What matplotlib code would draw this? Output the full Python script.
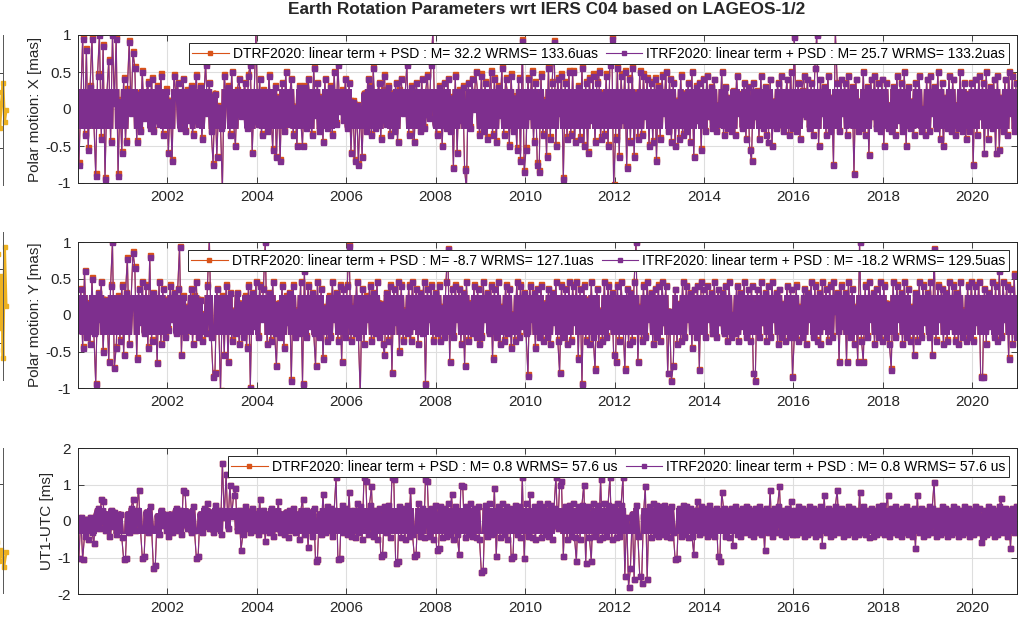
import numpy as np
import matplotlib
matplotlib.use('Agg')
import matplotlib.pyplot as plt
from matplotlib.lines import Line2D
from matplotlib.patches import Rectangle

plt.rcParams['font.family'] = ['Liberation Sans', 'DejaVu Sans']

# 24 samples per year, 2000 - 2020, values in 0.01 mas (polar motion) and 0.01 ms (UT1)
first_year = 2000
per_year = 24

x_itrf = [
	-75, 12, 95, -35, 80, -55, 30, 95, -18, -90, 45, 100, -40, 85, -95, 20, 65, -45, 100, 8, 95, -90, 10, -60,
	40, -45, 25, 90, -5, 75, 55, -45, 20, -30, 50, -12, 15, 35, -25, 40, -30, 5, 30, -20, 45, -35, 10, 25,
	-60, 10, -70, 45, 20, 35, -25, 10, 40, -30, 25, -15, 30, -35, 5, 45, -20, 30, -40, 15, 60, -5, 35, -30,
	-75, 20, -65, 3, -25, -110, 45, 15, 30, -35, 50, -20, -50, 25, 40, -10, 10, 35, -25, 45, 60, -60, 12, 105,
	-20, 40, -35, 25, 10, -30, 45, -5, -55, 30, -65, 15, -70, 35, -30, 50, -20, 15, 40, -35, 2, -50, 30, -15,
	-50, 30, -25, 40, 10, -35, 55, -8, 35, -30, 15, -45, 40, -25, 20, 30, -35, 50, -20, 60, -3, 25, -15, 40,
	-25, 35, -60, 10, -70, 5, -75, 0, -65, 20, -30, 40, 30, -35, 55, -25, 15, 35, -40, 25, 45, -20, 30, -35,
	20, -30, 35, -45, 25, 40, -5, 15, 60, -35, 30, -20, -45, 35, 8, -30, 40, -25, 20, 45, -12, 60, 105, -20,
	-35, 30, 5, -50, 35, -25, 40, -30, 15, -80, 45, -60, 25, -15, 30, -82, -110, 35, -25, 40, 0, 50, 20, -35,
	45, -30, 35, -40, 5, 50, -35, 40, -45, 30, -8, 55, -35, 40, 20, -50, 45, -30, 15, -55, 40, -70, 92, -85,
	-55, 40, -10, 50, -45, 35, -75, -85, 45, -35, 10, -65, 55, -40, 35, 90, -50, 40, -5, 45, -95, 35, -40, 50,
	-35, 50, -45, 15, 30, -40, 55, -50, 35, -60, 40, -15, 45, -45, 35, 50, -40, 20, -35, 45, -50, 60, 95, -105,
	-40, 55, -65, 45, -15, 50, -80, 40, -45, 55, -65, 20, -40, 50, -35, 45, -10, 40, -50, 35, -45, 40, -70, 30,
	-40, 45, -5, 50, -30, 40, -45, 35, -50, 10, -40, 45, -35, 20, -30, 35, -45, 50, -65, 30, -15, 35, -55, 40,
	-30, 45, -10, 30, -25, 40, -30, 5, -20, 50, -35, 30, -25, 15, -30, 25, -35, 45, -5, 20, -25, 35, -40, 30,
	-55, -70, 35, -10, 25, -40, 45, -25, 30, -35, -45, 40, -50, 10, -25, 35, -20, 45, -30, 5, 40, -35, 50, -25,
	97, -30, 35, -40, 25, 45, -10, 40, -25, 35, -35, 55, 100, -50, 40, -5, 30, -35, 45, -30, 15, -75, 105, 35,
	-30, 40, -5, 35, -35, 45, -20, 30, -88, 40, -30, 10, -25, 50, -35, 30, -62, 40, -10, 45, -25, 35, -30, 40,
	-50, 35, -25, 5, -30, 30, -35, 45, -15, 35, -30, 50, -50, 30, -25, 10, -35, 35, -20, 45, -30, 0, -35, 40,
	-30, 45, -5, 30, -25, 50, -40, 35, -50, 15, -25, 45, -30, 40, -35, 5, -25, 50, -30, 35, -40, 20, -30, 35,
	-75, 40, -35, 45, -10, 35, -60, 50, -40, 30, -25, 40, -60, 45, -55, 15, -30, 40, -35, 50, -5, 45, -30, 35,
]

y_itrf = [
	-20, 35, -45, 60, -30, 15, -40, 50, -25, -95, 30, -5, 45, -50, 20, 10, -65, 40, 100, -73, -45, 25, -35, 40,
	-55, 30, 77, -40, 20, 85, 65, -60, 35, -10, 45, -25, 40, -45, 80, -35, 30, 5, -66, 45, -40, 35, -30, 20,
	-20, 40, -5, 30, -25, 35, 93, -55, 25, -30, 10, -20, 35, -40, 25, 45, -30, 20, -35, 0, -25, 40, 105, -30,
	-85, -80, 35, -10, -105, 25, -55, 40, -65, 30, -35, 5, -25, 30, -40, 15, -30, 25, -45, 40, -100, 30, -15, 45,
	-30, 40, -5, 35, 100, -40, 30, -35, 45, -25, -70, 15, -30, 40, -45, 25, -10, 30, -90, 40, -30, 5, -25, 45,
	-95, 60, -30, 40, -15, 30, -25, -70, 45, -30, 35, -60, 10, -35, 25, -30, 45, -5, 30, -35, 40, -65, 35, -30,
	40, 95, -35, 10, -25, 45, -30, -110, 35, -40, 25, -5, 40, -35, 30, -25, 45, -30, 15, -40, -55, 30, -35, 40,
	-80, 35, -10, 45, -50, 40, -35, 5, -25, 40, -35, 45, -15, 35, -40, 30, -25, 45, -95, 35, -5, 40, -35, 30,
	-25, 40, -35, 10, -30, 45, 90, -65, 35, -30, 40, -5, 35, -40, 30, -70, 45, -35, 15, -25, 40, -30, 35, -40,
	-30, 45, -5, 30, -25, 40, -60, 35, -30, 45, -40, 10, -35, 40, -25, 35, -45, 0, -35, 45, -30, 40, -15, 30,
	-25, -83, 40, -5, 30, -45, 35, -30, 40, -35, 15, -30, 35, -40, 30, -10, 45, -35, -80, 40, -30, 35, -40, 45,
	-35, 40, -10, 45, -60, 35, -95, 40, -35, 20, -40, 45, -30, -75, 35, -40, 5, -35, 45, -30, 40, -15, 30, -55,
	-65, 40, -35, 45, -10, -75, 35, -40, 30, -35, 45, 100, -65, 10, -35, 40, -30, 45, -5, 30, -40, 35, -30, 40,
	-35, 45, -10, 40, -80, 5, -90, -70, 35, -40, 15, -35, 45, -30, 40, -5, 30, -45, 35, -30, 40, -75, 45, 35,
	-30, 40, -5, 30, -25, 45, -30, 35, -10, 30, -25, 40, -35, 45, -30, 0, -25, 40, -35, 30, -15, 45, -30, 35,
	-35, 40, -80, -90, 35, -30, 45, -10, 30, -35, 40, -30, 45, -5, 30, -40, 35, -30, 15, -35, 40, -30, 35, -85,
	-30, 40, -35, 10, -30, 35, -40, 30, -5, 45, -30, 40, -35, 30, -40, 45, -15, 35, -35, 40, -30, 45, 5, 30,
	-65, 40, -15, 30, -65, 45, -30, 35, -40, 10, -65, 100, -35, -65, 40, -30, 45, -5, 30, -40, 35, -30, 45, -35,
	40, -30, 15, -40, -75, 45, -30, 40, -5, 30, -40, 45, -30, 35, -35, 10, -55, 30, -35, 45, -30, 40, -10, 30,
	-30, 45, -55, 90, -35, 40, -5, 35, -40, 30, -35, 45, -15, 40, -35, 30, -40, 45, -30, 5, -35, 40, -30, 45,
	-35, 40, -10, 45, -85, -85, 35, -40, 30, -15, 45, -30, 40, -35, 60, -30, 45, -5, 40, -60, 35, -40, 55, -30,
]

ut1_itrf = [
	-100, 10, -105, -40, 5, -50, 10, -30, -60, 15, 35, -20, 60, 55, -25, 20, -40, 30, -15, 25, -35, 10, 20, -45,
	-105, -100, 20, -30, 35, 60, -25, 30, 85, -20, -100, -95, 25, -30, 40, -20, -130, -120, 15, -35, 30, -10, 20, -25,
	-40, 20, -30, 15, 35, -25, 30, -35, 85, 80, -20, 25, -30, 40, -25, -100, -95, 20, -30, 35, -15, 50, -20, 25,
	-30, 45, -20, 30, -35, 160, 10, 130, -20, 100, 15, 70, 90, -25, 30, -80, -35, 40, -20, 25, -30, 35, -25, 20,
	-35, 60, -25, 30, -55, 20, -30, 35, -40, 25, -20, 55, -30, 20, -35, 25, -45, 30, -25, 35, -30, 20, -50, 25,
	60, -35, 30, -70, 25, -40, 35, -110, -105, 20, -35, 75, -30, 40, -25, 35, -40, 30, 120, -105, -100, 45, -30, 35,
	-35, 80, -40, 30, -45, 50, -30, 40, -50, 120, 110, -35, 45, 95, -40, 30, -50, 35, -95, -90, 40, -30, 45, -45,
	120, 115, -115, -110, 40, -45, 35, -50, 45, -40, 85, -35, -95, -90, 50, -40, 35, -45, 115, 110, -40, 35, -50, 45,
	-80, -75, 40, -45, 35, -40, 50, -35, 75, -50, 40, -35, -90, 100, 95, -45, 40, -35, 50, -40, 35, -45, 40, -50,
	-140, -135, 45, -40, 50, -35, -30, 90, -95, 40, -45, 50, -35, 40, -50, 35, -100, -95, 45, -35, 40, -45, 120, -100,
	50, -40, 75, -45, 40, -50, 35, 50, -45, 40, -35, 50, -40, 45, -50, 35, 120, -20, 100, 110, -95, 40, -50, 45,
	-40, 50, -45, -110, 40, -50, 45, 100, -115, 40, -45, -110, 50, -40, 45, -50, 115, -45, 50, -40, 45, 120, -50, 40,
	-45, 50, -40, 45, 120, -150, 10, -180, -130, 20, -160, 45, -40, -150, -170, 15, 95, -160, 40, -45, 50, -35, 45, -40,
	40, -35, 45, -40, 35, -45, 40, -30, -105, -100, 35, -40, 45, -35, 40, -45, 35, -40, -90, 30, 55, -35, 40, -30,
	35, -40, 45, -35, 30, -40, 35, -95, -110, 80, 35, -40, 30, -45, 35, -65, 40, -35, 30, -40, 35, -30, 40, 35,
	-35, 30, -40, 35, -30, 40, -35, 30, -80, 35, -30, 85, -40, 35, -30, 40, 95, -35, 30, -40, 35, -30, 55, -35,
	30, -35, 40, -30, 35, -40, 30, -35, 40, -30, 35, -40, 30, -35, 40, -65, 70, -30, 35, -40, 30, -35, 40, 85,
	-30, 35, -40, 30, -35, 40, -30, 35, -40, 30, -35, 80, -30, 40, -35, 30, -45, 35, -40, 30, -35, 40, -30, 45,
	-35, 30, 70, -40, 35, -30, 40, -35, 30, -40, 35, -30, 40, -35, 30, -40, 35, -75, 70, -30, 35, -40, 30, -35,
	40, -30, 35, 108, -40, 30, -35, 40, -30, 35, -40, 30, -35, 40, -30, 35, -40, 30, -35, 40, -30, 35, -40, 30,
	-35, 40, -30, 35, -57, -40, 30, -35, 40, -30, 35, -40, 30, -35, 40, 62, -30, 35, -40, 30, -75, 35, -30, 40,
]

# DTRF2020 minus ITRF2020, per year (0.01 mas)
x_dtrf_shift = [3, 3, 2, 2, 2, 2, 2, 2, 2, 3, 3, 3, 3, 2, 1, 1, 1, 1, 1, 1, 1]
y_dtrf_shift = [2, 2, 2, 2, 2, 2, 2, 2, 2, 2, 2, 2, 2, 1, 1, 1, 2, 2, 2, 2, 2]

x_labels = ['DTRF2020: linear term + PSD : M= 32.2 WRMS= 133.6uas',
	'ITRF2020: linear term + PSD : M= 25.7 WRMS= 133.2uas']
y_labels = ['DTRF2020: linear term + PSD : M= -8.7 WRMS= 127.1uas',
	'ITRF2020: linear term + PSD : M= -18.2 WRMS= 129.5uas']
ut1_labels = ['DTRF2020: linear term + PSD : M= 0.8 WRMS= 57.6 us',
	'ITRF2020: linear term + PSD : M= 0.8 WRMS= 57.6 us']

# bits of the neighbouring figure cut off at the left border
side_yellow = [
	[0.45, 0.62, 0.38, 0.55, 0.68, 0.42, 0.5],
	[0.2, 0.85, 0.35, 0.7, 0.15, 0.9, 0.5],
	[0.35, 0.22, 0.3, 0.18, 0.28],
]

ORANGE = '#D95319'
PURPLE = '#7E2F8E'
DARK = '#262626'

W, H = 1025, 622


def frac(left, top, right, bottom):
	return [left / W, 1 - bottom / H, (right - left) / W, (bottom - top) / H]


def draw_series(ax, t, vals, color, core):
	# thin line + markers like the original, and a heavier stroke inside the
	# dense middle band where the daily points overlap into a solid block
	ax.plot(t, vals, color=color, lw=0.8, marker='s', ms=3.6, mec=color, mfc=color)
	thick, = ax.plot(t, vals, color=color, lw=3.6)
	thick.set_clip_path(Rectangle((2000, -core), 21, 2 * core, transform=ax.transData))


def draw_panel(fig, box, itrf, dtrf, ylim, yticks, core, ylabel, label_x, labels):
	ax = fig.add_axes(frac(*box))
	t = first_year + (np.arange(len(itrf)) + 0.5) / per_year
	draw_series(ax, t, dtrf, ORANGE, core)
	draw_series(ax, t, itrf, PURPLE, core)
	ax.set_xlim(2000, 2021)
	ax.set_ylim(*ylim)
	ax.set_xticks(range(2002, 2021, 2))
	ax.set_yticks(yticks)
	ax.set_yticklabels([('%g' % v) for v in yticks])
	ax.grid(True, color='#dedede', lw=0.8)
	ax.set_axisbelow(True)
	ax.tick_params(direction='in', top=True, right=True, length=4, width=0.6,
		colors=DARK, labelsize=11, pad=5)
	for s in ax.spines.values():
		s.set_color(DARK)
		s.set_linewidth(0.7)
	ax.set_ylabel(ylabel, fontsize=11, color=DARK)
	ax.yaxis.set_label_coords(label_x, 0.5)
	handles = [Line2D([], [], color=ORANGE, lw=0.8, marker='s', ms=3.2),
		Line2D([], [], color=PURPLE, lw=0.8, marker='s', ms=3.2)]
	leg = ax.legend(handles, labels, loc='upper right', ncol=2, fontsize=10,
		fancybox=False, framealpha=1, edgecolor=DARK, borderaxespad=0.6,
		handlelength=2.6, handletextpad=0.3, columnspacing=0.6, borderpad=0.25)
	leg.get_frame().set_linewidth(0.7)
	return ax


def draw_side(fig, box, vals):
	ax = fig.add_axes(frac(*box))
	xs = np.linspace(0.9, 1.05, len(vals))
	ax.plot(xs, vals, color='#EDB120', lw=2, marker='s', ms=3, clip_on=False)
	ax.set_xlim(0, 1)
	ax.set_ylim(0, 1)
	ax.set_xticks([])
	ax.set_yticks([0.25, 0.75])
	ax.tick_params(direction='in', length=3, width=0.6, colors=DARK, labelleft=False,
		left=False, right=True)
	for k in ['left', 'top', 'bottom']:
		ax.spines[k].set_visible(False)
	ax.spines['right'].set_color('#555555')
	ax.spines['right'].set_linewidth(0.7)


def main():
	fig = plt.figure(figsize=(W / 100, H / 100), dpi=100)
	x = np.array(x_itrf) / 100
	y = np.array(y_itrf) / 100
	ut1 = np.array(ut1_itrf) / 100
	x_d = x + np.repeat(x_dtrf_shift, per_year) / 100
	y_d = y + np.repeat(y_dtrf_shift, per_year) / 100

	draw_panel(fig, (78, 35, 1017, 183), x, x_d, (-1, 1), [-1, -0.5, 0, 0.5, 1], 0.27,
		'Polar motion: X [mas]', -0.038, x_labels)
	draw_panel(fig, (78, 242, 1017, 388), y, y_d, (-1, 1), [-1, -0.5, 0, 0.5, 1], 0.27,
		'Polar motion: Y [mas]', -0.038, y_labels)
	draw_panel(fig, (78, 448, 1017, 594), ut1, ut1, (-2, 2), [-2, -1, 0, 1, 2], 0.36,
		'UT1-UTC [ms]', -0.026, ut1_labels)

	draw_side(fig, (-60, 35, 3, 185), side_yellow[0])
	draw_side(fig, (-60, 232, 3, 380), side_yellow[1])
	draw_side(fig, (-60, 448, 3, 593), side_yellow[2])

	fig.text(547 / W, 1 - 10 / H, 'Earth Rotation Parameters wrt IERS C04 based on LAGEOS-1/2',
		ha='center', va='center', fontsize=12.4, fontweight='bold', color=DARK)
	fig.savefig('out.png', dpi=100)


if __name__ == "__main__":
	main()
